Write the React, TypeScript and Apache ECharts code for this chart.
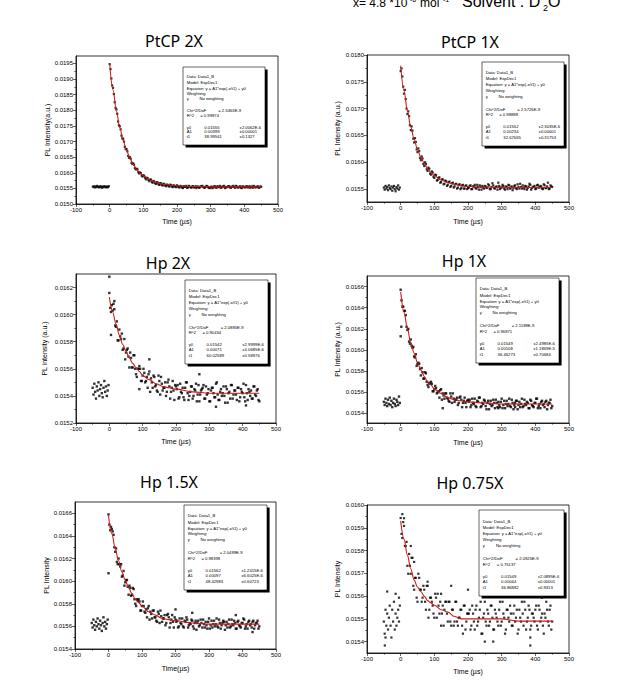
import React, { useEffect, useRef } from "react";
import * as echarts from "echarts";

const FONT = "'Liberation Sans', Arial, sans-serif";
const TFONT = "'Noto Sans', 'Liberation Sans', sans-serif";

const PRE_START = -50;
const PRE_STEP = 2.5;
const A_START = 0;
const B_START = 2.5;
const STEP = 5;

// fitted curve sample times (µs)
const FIT_X = [0, 10, 20, 30, 40, 50, 60, 70, 80, 90, 100, 120, 140, 160, 180, 200, 250, 300, 350, 400, 450];
const X_TICKS = [-100, 0, 100, 200, 300, 400, 500];

// ---------------- PtCP 2X ----------------
const P1_PRE_Y = [
  0.01556, 0.01554, 0.01557, 0.01553, 0.01555, 0.01558, 0.01554, 0.01556, 0.01553, 0.01557,
  0.01555, 0.01552, 0.01556, 0.01554, 0.01557, 0.01555, 0.01553, 0.01556, 0.01554, 0.01557,
];
const P1_A_Y = [
  0.01948, 0.01902, 0.01872, 0.01826, 0.01803, 0.01764, 0.01749, 0.01719, 0.01709, 0.01683,
  0.01676, 0.01654, 0.0165, 0.01632, 0.0163, 0.01615, 0.01613, 0.01602, 0.01601, 0.01591,
  0.01592, 0.01584, 0.01584, 0.01577, 0.01578, 0.01571, 0.01574, 0.01567, 0.0157, 0.01563,
  0.01567, 0.01561, 0.01565, 0.01559, 0.01562, 0.01557, 0.01562, 0.01556, 0.0156, 0.01555,
  0.0156, 0.01554, 0.01558, 0.01553, 0.01557, 0.01555, 0.01552, 0.01558, 0.01554, 0.01556,
  0.01553, 0.01557, 0.01555, 0.01552, 0.01556, 0.01558, 0.01553, 0.01555, 0.01557, 0.01552,
  0.01554, 0.01551, 0.01556, 0.01553, 0.01557, 0.01554, 0.01552, 0.01556, 0.01558, 0.01553,
  0.01555, 0.01557, 0.01552, 0.01556, 0.01554, 0.01558, 0.01553, 0.01555, 0.01552, 0.01557,
  0.01554, 0.01556, 0.01553, 0.01557, 0.01555, 0.01552, 0.01556, 0.01554, 0.01557, 0.01553,
  0.01555,
];
const P1_B_Y = [
  0.01932, 0.0188, 0.01852, 0.01808, 0.01789, 0.01752, 0.01739, 0.0171, 0.017, 0.01676,
  0.01669, 0.01648, 0.01645, 0.01628, 0.01626, 0.01611, 0.01611, 0.01598, 0.01599, 0.01588,
  0.0159, 0.01579, 0.01583, 0.01573, 0.01578, 0.01568, 0.01572, 0.01564, 0.01569, 0.01561,
  0.01566, 0.01559, 0.01563, 0.01557, 0.01561, 0.01556, 0.0156, 0.01554, 0.01558, 0.01554,
  0.01557, 0.01553, 0.01556, 0.01551, 0.01555, 0.01558, 0.01553, 0.01556, 0.01552, 0.01557,
  0.01554, 0.01551, 0.01556, 0.01553, 0.01557, 0.01555, 0.01552, 0.01558, 0.01554, 0.01551,
  0.01556, 0.01553, 0.01557, 0.01552, 0.01555, 0.01558, 0.01553, 0.01556, 0.01551, 0.01554,
  0.01557, 0.01553, 0.01555, 0.01558, 0.01552, 0.01556, 0.01553, 0.01557, 0.01551, 0.01555,
  0.01553, 0.01557, 0.01554, 0.01552, 0.01556, 0.01558, 0.01553, 0.01555, 0.01552, 0.01556,
];
const P1_EXTRA: number[][] = [];
const P1_FIT_Y = [
  0.01951, 0.01865, 0.01798, 0.01745, 0.01704, 0.01672, 0.01647, 0.01627, 0.01611, 0.01599,
  0.0159, 0.01576, 0.01568, 0.01563, 0.0156, 0.01558, 0.01556, 0.01555, 0.01555, 0.01555, 0.01555,
];
const P1_Y_TICKS = [0.015, 0.0155, 0.016, 0.0165, 0.017, 0.0175, 0.018, 0.0185, 0.019, 0.0195];
const P1_Y_MINOR = [0.01525, 0.01575, 0.01625, 0.01675, 0.01725, 0.01775, 0.01825, 0.01875, 0.01925];

// ---------------- PtCP 1X ----------------
const P2_PRE_Y = [
  0.01553, 0.01549, 0.01556, 0.01551, 0.01554, 0.01548, 0.01557, 0.01552, 0.0155, 0.01555,
  0.01547, 0.01553, 0.01556, 0.0155, 0.01546, 0.01554, 0.01551, 0.01557, 0.01549, 0.01553,
];
const P2_A_Y = [
  0.0177, 0.0176, 0.01728, 0.01718, 0.0169, 0.01686, 0.0166, 0.01659, 0.01637, 0.01638,
  0.01619, 0.01621, 0.01604, 0.01607, 0.01593, 0.01597, 0.01584, 0.01588, 0.01577, 0.01581,
  0.01571, 0.01576, 0.01567, 0.01572, 0.01563, 0.01568, 0.0156, 0.01565, 0.01558, 0.01564,
  0.01556, 0.01562, 0.01555, 0.0156, 0.01553, 0.01559, 0.01552, 0.01558, 0.01551, 0.01557,
  0.01552,
  0.01556, 0.0155, 0.01555, 0.01558, 0.01551, 0.01554, 0.01557, 0.01549, 0.01553, 0.01556,
  0.01552, 0.01559, 0.0155, 0.01554, 0.01557, 0.01551, 0.01555, 0.01562, 0.0155, 0.01553,
  0.01556, 0.01549, 0.01554, 0.01558, 0.01551, 0.01555, 0.01552, 0.01557, 0.0155, 0.01554,
  0.0156, 0.01551, 0.01553, 0.01556, 0.01549, 0.01555, 0.01558, 0.01552, 0.01554, 0.0155,
  0.01557, 0.01553, 0.01556, 0.01551, 0.01559, 0.01552, 0.01555, 0.0155, 0.01557, 0.01554,
];
const P2_B_Y = [
  0.01775, 0.01741, 0.01735, 0.017, 0.01695, 0.01669, 0.01667, 0.01644, 0.01645, 0.01624,
  0.01626, 0.01608, 0.01611, 0.01597, 0.016, 0.01587, 0.0159, 0.01579, 0.01583, 0.01573,
  0.01577, 0.01566, 0.01571, 0.01562, 0.01568, 0.01559, 0.01566, 0.01556, 0.01563, 0.01554,
  0.01561, 0.01553, 0.01559, 0.01551, 0.01558, 0.0155, 0.01557, 0.01551, 0.01556, 0.0155,
  0.01553, 0.01557, 0.0155, 0.01555, 0.01552, 0.01558, 0.01549, 0.01554, 0.01556, 0.01551,
  0.01555, 0.01553, 0.01557, 0.0155, 0.01561, 0.01552, 0.01554, 0.01549, 0.01556, 0.01553,
  0.01558, 0.01551, 0.01555, 0.0155, 0.01557, 0.01553, 0.01548, 0.01556, 0.01552, 0.01559,
  0.01551, 0.01554, 0.01557, 0.0155, 0.01555, 0.01552, 0.0156, 0.01549, 0.01554, 0.01556,
  0.01551, 0.01558, 0.01553, 0.01555, 0.0155, 0.01557, 0.01552, 0.01562, 0.01551, 0.01555,
];
const P2_EXTRA: number[][] = [];
const P2_FIT_Y = [
  0.0178, 0.01733, 0.01696, 0.01666, 0.01643, 0.01624, 0.01609, 0.01598, 0.01588, 0.01581,
  0.01575, 0.01567, 0.01562, 0.01559, 0.01556, 0.01555, 0.01554, 0.01553, 0.01553, 0.01553, 0.01553,
];
const P2_Y_TICKS = [0.0155, 0.016, 0.0165, 0.017, 0.0175, 0.018];
const P2_Y_MINOR = [0.01575, 0.01625, 0.01675, 0.01725, 0.01775];

// ---------------- Hp 2X ----------------
const P3_PRE_Y = [
  0.01546, 0.01541, 0.01549, 0.01543, 0.01538, 0.01547, 0.01544, 0.0155, 0.0154, 0.01545,
  0.01548, 0.01542, 0.01539, 0.01546, 0.01551, 0.01543, 0.01547, 0.0154, 0.01544, 0.01548,
];
const P3_A_Y = [
  0.01616, 0.01602, 0.01603, 0.01604, 0.01591, 0.01581, 0.01589, 0.01582, 0.01574, 0.01582,
  0.01572, 0.01575, 0.01561, 0.01568, 0.01561, 0.0157, 0.01556, 0.0156, 0.01562, 0.01551,
  0.01555, 0.01557, 0.01551, 0.01546, 0.01558, 0.01553, 0.01546, 0.01554, 0.01548, 0.01543,
  0.01551, 0.01554, 0.01544, 0.01546, 0.0154, 0.0155, 0.01547, 0.01543, 0.01551, 0.01537,
  0.01547,
  0.01548, 0.01539, 0.01543, 0.01546, 0.01537, 0.0155, 0.01542, 0.0154, 0.01547, 0.01538,
  0.01545, 0.01549, 0.01541, 0.01536, 0.01544, 0.01546, 0.01538, 0.01547, 0.01542, 0.01536,
  0.01544, 0.01546, 0.01539, 0.01549, 0.01541, 0.01537, 0.01545, 0.01542, 0.0154, 0.01547,
  0.01535, 0.01543, 0.01548, 0.01538, 0.01544, 0.01541, 0.01546, 0.01536, 0.01545, 0.01542,
  0.01539, 0.01548, 0.01537, 0.01543, 0.01544, 0.01538, 0.01547, 0.0154, 0.01545, 0.01536,
];
const P3_B_Y = [
  0.01605, 0.01607, 0.01608, 0.01592, 0.01595, 0.01581, 0.01584, 0.01586, 0.01575, 0.01567,
  0.01574, 0.01569, 0.01572, 0.01561, 0.0157, 0.0156, 0.01554, 0.0156, 0.0156, 0.01551,
  0.0156, 0.0155, 0.01554, 0.01556, 0.01543, 0.0155, 0.01555, 0.01547, 0.01544, 0.01555,
  0.01541, 0.01549, 0.01546, 0.0155, 0.01543, 0.01552, 0.01538, 0.01546, 0.01544, 0.01548,
  0.01545, 0.01538, 0.01549, 0.01542, 0.01539, 0.01546, 0.0155, 0.01537, 0.01543, 0.01547,
  0.0154, 0.01544, 0.01536, 0.01548, 0.01541, 0.01545, 0.01548, 0.01538, 0.01541, 0.01545,
  0.01536, 0.01546, 0.01542, 0.01539, 0.0155, 0.01537, 0.01543, 0.0154, 0.01547, 0.01535,
  0.01545, 0.01542, 0.01538, 0.01548, 0.01541, 0.01544, 0.01537, 0.01546, 0.01539, 0.01543,
  0.01549, 0.01536, 0.01542, 0.01545, 0.0154, 0.01538, 0.01547, 0.01541, 0.01544, 0.01537,
];
const P3_EXTRA = [
  [5, 0.01585], [0, 0.01628], [15, 0.0161], [90, 0.01545], [120, 0.01567],
  [270, 0.01556], [320, 0.01532], [410, 0.01533],
];
const P3_FIT_Y = [
  0.01613, 0.01602, 0.01593, 0.01585, 0.01578, 0.01573, 0.01568, 0.01564, 0.01561, 0.01558,
  0.01555, 0.01552, 0.01549, 0.01547, 0.01546, 0.01545, 0.01543, 0.01542, 0.01542, 0.01542, 0.01542,
];
const P3_Y_TICKS = [0.0152, 0.0154, 0.0156, 0.0158, 0.016, 0.0162];
const P3_Y_MINOR = [0.0153, 0.0155, 0.0157, 0.0159, 0.0161];

// ---------------- Hp 1X ----------------
const P4_PRE_Y = [
  0.01551, 0.01548, 0.01554, 0.0155, 0.01547, 0.01553, 0.01549, 0.01555, 0.01548, 0.01552,
  0.01546, 0.0155, 0.01554, 0.01549, 0.01547, 0.01553, 0.01551, 0.01548, 0.01556, 0.0155,
];
const P4_A_Y = [
  0.01657, 0.01641, 0.01637, 0.01633, 0.01619, 0.01608, 0.0161, 0.01602, 0.01594, 0.01596,
  0.01587, 0.01587, 0.01576, 0.01579, 0.01573, 0.01578, 0.01567, 0.01569, 0.0157, 0.01561,
  0.01563, 0.01564, 0.0156, 0.01555, 0.01563, 0.01559, 0.01554, 0.01559, 0.01554, 0.01551,
  0.01556, 0.01559, 0.01551, 0.01553, 0.01548, 0.01555, 0.01553, 0.0155, 0.01555, 0.01546,
  0.01553,
  0.01553, 0.01548, 0.0155, 0.01554, 0.01546, 0.01551, 0.01555, 0.01547, 0.01549, 0.01552,
  0.01544, 0.01552, 0.01549, 0.01547, 0.01553, 0.01545, 0.0155, 0.01551, 0.01546, 0.01554,
  0.01548, 0.01545, 0.01552, 0.01549, 0.01547, 0.01553, 0.01544, 0.0155, 0.01552, 0.01548,
  0.01546, 0.01554, 0.01547, 0.01549, 0.01551, 0.01545, 0.01553, 0.01548, 0.01546, 0.0155,
  0.01554, 0.01547, 0.01545, 0.01552, 0.01549, 0.01551, 0.01544, 0.0155, 0.01553, 0.01547,
];
const P4_B_Y = [
  0.01647, 0.01641, 0.01637, 0.01622, 0.0162, 0.01606, 0.01604, 0.01603, 0.01593, 0.01585,
  0.01588, 0.01582, 0.01583, 0.01573, 0.01579, 0.0157, 0.01565, 0.01568, 0.01568, 0.01561,
  0.01566, 0.01559, 0.01561, 0.01562, 0.01553, 0.01557, 0.01559, 0.01555, 0.01552, 0.01559,
  0.0155, 0.01554, 0.01553, 0.01555, 0.0155, 0.01556, 0.01546, 0.01552, 0.0155, 0.01552,
  0.01551, 0.01546, 0.01554, 0.01549, 0.01547, 0.01552, 0.01555, 0.01546, 0.0155, 0.01553,
  0.01547, 0.0155, 0.01544, 0.01552, 0.01548, 0.0155, 0.01553, 0.01546, 0.01548, 0.01551,
  0.01545, 0.01552, 0.01549, 0.01547, 0.01554, 0.01546, 0.0155, 0.01548, 0.01552, 0.01544,
  0.01551, 0.01549, 0.01546, 0.01553, 0.01548, 0.0155, 0.01545, 0.01552, 0.01547, 0.0155,
  0.01554, 0.01545, 0.01549, 0.01551, 0.01548, 0.01546, 0.01552, 0.01548, 0.0155, 0.01545,
];
const P4_EXTRA = [
  [0, 0.01613], [2, 0.01622], [125, 0.01545], [290, 0.01545], [340, 0.01546],
];
const P4_FIT_Y = [
  0.01655, 0.01636, 0.0162, 0.01607, 0.01597, 0.01588, 0.01581, 0.01575, 0.0157, 0.01567,
  0.01563, 0.01559, 0.01555, 0.01553, 0.01552, 0.01551, 0.0155, 0.01549, 0.01549, 0.01549, 0.01549,
];
const P4_Y_TICKS = [0.0154, 0.0156, 0.0158, 0.016, 0.0162, 0.0164, 0.0166];
const P4_Y_MINOR = [0.0155, 0.0157, 0.0159, 0.0161, 0.0163, 0.0165];

// ---------------- Hp 1.5X ----------------
const P5_PRE_Y = [
  0.01563, 0.01559, 0.01566, 0.01561, 0.01557, 0.01564, 0.0156, 0.01567, 0.01562, 0.01558,
  0.01565, 0.01561, 0.01556, 0.01563, 0.01568, 0.0156, 0.01564, 0.01558, 0.01562, 0.01566,
];
const P5_A_Y = [
  0.01659, 0.01645, 0.01646, 0.01641, 0.01626, 0.01617, 0.0162, 0.01613, 0.01604, 0.01609,
  0.01599, 0.01601, 0.01588, 0.01594, 0.01588, 0.01593, 0.0158, 0.01584, 0.01584, 0.01574,
  0.01578, 0.01578, 0.01572, 0.01568, 0.01578, 0.01573, 0.01567, 0.01574, 0.01568, 0.01564,
  0.01571, 0.01574, 0.01564, 0.01567, 0.01561, 0.0157, 0.01568, 0.01563, 0.0157, 0.01559,
  0.01566,
  0.01565, 0.0156, 0.01563, 0.01567, 0.01559, 0.01564, 0.01566, 0.01561, 0.01562, 0.01565,
  0.01558, 0.01565, 0.01563, 0.0156, 0.01566, 0.01559, 0.01562, 0.01564, 0.01558, 0.01567,
  0.01561, 0.01559, 0.01565, 0.01562, 0.0156, 0.01566, 0.01558, 0.01563, 0.01564, 0.01561,
  0.01559, 0.01566, 0.0156, 0.01562, 0.01565, 0.01558, 0.01564, 0.01561, 0.01559, 0.01563,
  0.01566, 0.0156, 0.01558, 0.01565, 0.01562, 0.01564, 0.01558, 0.01563, 0.01565, 0.0156,
];
const P5_B_Y = [
  0.0165, 0.01648, 0.01644, 0.0163, 0.01629, 0.01615, 0.01615, 0.01615, 0.01605, 0.01596,
  0.01601, 0.01595, 0.01596, 0.01587, 0.01594, 0.01584, 0.01578, 0.01583, 0.01582, 0.01574,
  0.01582, 0.01573, 0.01575, 0.01576, 0.01566, 0.01571, 0.01574, 0.01568, 0.01565, 0.01573,
  0.01563, 0.01569, 0.01567, 0.0157, 0.01563, 0.01571, 0.01559, 0.01566, 0.01564, 0.01568,
  0.01564, 0.01559, 0.01567, 0.01562, 0.0156, 0.01565, 0.01568, 0.01559, 0.01563, 0.01566,
  0.0156, 0.01563, 0.01557, 0.01565, 0.01561, 0.01563, 0.01566, 0.01559, 0.01561, 0.01564,
  0.01558, 0.01565, 0.01562, 0.0156, 0.01567, 0.01559, 0.01563, 0.01561, 0.01565, 0.01557,
  0.01564, 0.01562, 0.01559, 0.01566, 0.01561, 0.01563, 0.01558, 0.01565, 0.0156, 0.01563,
  0.01567, 0.01558, 0.01562, 0.01564, 0.01561, 0.01559, 0.01565, 0.01561, 0.01563, 0.01558,
];
const P5_EXTRA = [
  [0, 0.01607], [200, 0.01575], [250, 0.01572], [380, 0.0157], [430, 0.01555],
];
const P5_FIT_Y = [
  0.01658, 0.01642, 0.01629, 0.01618, 0.01608, 0.01601, 0.01594, 0.01589, 0.01584, 0.01581,
  0.01578, 0.01573, 0.0157, 0.01567, 0.01566, 0.01565, 0.01563, 0.01562, 0.01562, 0.01562, 0.01562,
];
const P5_Y_TICKS = [0.0154, 0.0156, 0.0158, 0.016, 0.0162, 0.0164, 0.0166];
const P5_Y_MINOR = [0.0155, 0.0157, 0.0159, 0.0161, 0.0163, 0.0165];

// ---------------- Hp 0.75X ----------------
const P6_PRE_Y = [
  0.015488, 0.015435, 0.01554, 0.01547, 0.015523, 0.015453, 0.015505, 0.015558, 0.01547, 0.015418,
  0.01554, 0.015488, 0.015575, 0.015453, 0.015523, 0.01547, 0.015505, 0.01554, 0.015488, 0.015558,
];
const P6_A_Y = [
  0.015943, 0.015855, 0.015908, 0.01582, 0.015733, 0.015785, 0.015698, 0.015768, 0.015628, 0.01568,
  0.015575, 0.01568, 0.015628, 0.015593, 0.015628, 0.01554, 0.015645, 0.01554, 0.015593, 0.015558,
  0.015505, 0.015593, 0.01561, 0.015523, 0.01547, 0.015558, 0.01554, 0.015575, 0.015488, 0.015575,
  0.01547, 0.01554, 0.015488, 0.015575, 0.01547, 0.015505, 0.01554, 0.015435, 0.015558, 0.015488,
  0.015523,
  0.01554, 0.01547, 0.015523, 0.015453, 0.015558, 0.015488, 0.01554, 0.015435, 0.015505, 0.015575,
  0.01547, 0.015523, 0.015488, 0.015558, 0.015453, 0.01554, 0.015505, 0.01547, 0.015575, 0.015488,
  0.015523, 0.015435, 0.01554, 0.015505, 0.015558, 0.01547, 0.015523, 0.015488, 0.01554, 0.015453,
  0.015505, 0.015575, 0.01547, 0.01554, 0.015488, 0.015558, 0.015453, 0.015523, 0.015505, 0.01554,
  0.01547, 0.015558, 0.015488, 0.015523, 0.015435, 0.015505, 0.01554, 0.01547, 0.015558, 0.015488,
];
const P6_B_Y = [
  0.015873, 0.015925, 0.01582, 0.015838, 0.015698, 0.015733, 0.015768, 0.015645, 0.01568, 0.015593,
  0.015698, 0.015628, 0.015575, 0.015645, 0.015575, 0.015645, 0.015505, 0.015593, 0.015575, 0.015523,
  0.01561, 0.015505, 0.015558, 0.015575, 0.015523, 0.01547, 0.015575, 0.015523, 0.015575, 0.015488,
  0.01554, 0.01547, 0.015575, 0.015488, 0.015505, 0.01554, 0.01547, 0.015558, 0.015453, 0.015523,
  0.015523, 0.015453, 0.015558, 0.015488, 0.01554, 0.01547, 0.015505, 0.015575, 0.015435, 0.015523,
  0.015488, 0.01554, 0.01547, 0.015558, 0.015505, 0.015453, 0.015523, 0.015488, 0.01554, 0.01547,
  0.015575, 0.015505, 0.015453, 0.01554, 0.015488, 0.015523, 0.01547, 0.015558, 0.015505, 0.015435,
  0.01554, 0.015488, 0.015523, 0.015575, 0.015453, 0.015505, 0.01554, 0.01547, 0.015523, 0.015488,
  0.015558, 0.015453, 0.01554, 0.015505, 0.01547, 0.015523, 0.015575, 0.015488, 0.01554, 0.015453,
];
const P6_EXTRA = [
  [5, 0.01596], [10, 0.015942], [30, 0.01582], [40, 0.01575], [-40, 0.01562], [-15, 0.01561],
  [-5, 0.015593], [80, 0.015663], [120, 0.01561], [250, 0.0154], [275, 0.0154], [385, 0.015383],
  [385, 0.015418], [-47, 0.015383], [-45, 0.015418], [150, 0.015645], [200, 0.015628],
  [320, 0.01561], [420, 0.015593],
];
const P6_FIT_Y = [
  0.01593, 0.01585, 0.01578, 0.01572, 0.01567, 0.01564, 0.01562, 0.0156, 0.01558, 0.01557,
  0.01556, 0.01554, 0.01553, 0.01551, 0.0155, 0.0155, 0.0155, 0.0155, 0.01549, 0.01549, 0.01549,
];
const P6_Y_TICKS = [0.0154, 0.0155, 0.0156, 0.0157, 0.0158, 0.0159, 0.016];
const P6_Y_MINOR = [0.01545, 0.01555, 0.01565, 0.01575, 0.01585, 0.01595];

// fit parameter tables
const P1_BOX = { chi: "2.3463E-9", r2: "0.99874", y0: ["0.01555", "2.0062E-6"], a1: ["0.00399", "0.00001"], t1: ["38.99561", "0.1327"] };
const P2_BOX = { chi: "2.5726E-9", r2: "0.98888", y0: ["0.01552", "2.3035E-6"], a1: ["0.00234", "0.00001"], t1: ["32.67665", "0.31753"] };
const P3_BOX = { chi: "2.0885E-9", r2: "0.90434", y0: ["0.01542", "2.9999E-6"], a1: ["0.00071", "4.0685E-6"], t1: ["60.02589", "0.58976"] };
const P4_BOX = { chi: "2.1188E-9", r2: "0.96871", y0: ["0.01549", "2.4985E-6"], a1: ["0.00108", "1.1869E-5"], t1: ["36.46273", "0.70684"] };
const P5_BOX = { chi: "2.0499E-9", r2: "0.98398", y0: ["0.01562", "1.2415E-6"], a1: ["0.00097", "6.6025E-6"], t1: ["48.42983", "0.60723"] };
const P6_BOX = { chi: "2.0925E-9", r2: "0.75137", y0: ["0.01549", "2.0895E-6"], a1: ["0.00044", "0.00001"], t1: ["36.86882", "0.9313"] };

const PANELS = [
  { title: "PtCP 2X", tp: [174, 41], grid: [76, 56, 202, 148], yMin: 0.015, yMax: 0.01974, ticks: P1_Y_TICKS, minor: P1_Y_MINOR, yName: "PL Intensity(a.u.)", yGap: 25, xName: "Time (µs)", xGap: 14, pre: P1_PRE_Y, a: P1_A_Y, b: P1_B_Y, extra: P1_EXTRA, fit: P1_FIT_Y, box: [183, 67, 82, 78], bt: P1_BOX, sym: 2.2 },
  { title: "PtCP 1X", tp: [470, 42], grid: [367, 55, 202, 147], yMin: 0.01526, yMax: 0.018, ticks: P2_Y_TICKS, minor: P2_Y_MINOR, yName: "PL Intensity (a.u.)", yGap: 26.5, xName: "Time (µs)", xGap: 15.5, pre: P2_PRE_Y, a: P2_A_Y, b: P2_B_Y, extra: P2_EXTRA, fit: P2_FIT_Y, box: [482, 62, 82, 84], bt: P2_BOX, sym: 2.2 },
  { title: "Hp 2X", tp: [168, 263], grid: [76, 274, 200, 149], yMin: 0.0152, yMax: 0.0163, ticks: P3_Y_TICKS, minor: P3_Y_MINOR, yName: "PL intensity (a.u.)", yGap: 28, xName: "Time (µs)", xGap: 15, pre: P3_PRE_Y, a: P3_A_Y, b: P3_B_Y, extra: P3_EXTRA, fit: P3_FIT_Y, box: [185, 280, 83, 84], bt: P3_BOX, sym: 2.4 },
  { title: "Hp 1X", tp: [464, 261], grid: [367, 276, 202, 147], yMin: 0.01531, yMax: 0.0167, ticks: P4_Y_TICKS, minor: P4_Y_MINOR, yName: "PL Intensity (a.u.)", yGap: 26.5, xName: "Time (µs)", xGap: 15.5, pre: P4_PRE_Y, a: P4_A_Y, b: P4_B_Y, extra: P4_EXTRA, fit: P4_FIT_Y, box: [476, 278, 83, 85], bt: P4_BOX, sym: 2.4 },
  { title: "Hp 1.5X", tp: [169, 482], grid: [75, 502, 201, 147], yMin: 0.0154, yMax: 0.0167, ticks: P5_Y_TICKS, minor: P5_Y_MINOR, yName: "PL Intensity", yGap: 25, xName: "Time(µs)", xGap: 15.5, pre: P5_PRE_Y, a: P5_A_Y, b: P5_B_Y, extra: P5_EXTRA, fit: P5_FIT_Y, box: [184, 505, 83, 85], bt: P5_BOX, sym: 2.4 },
  { title: "Hp 0.75X", tp: [470, 483], grid: [367, 505, 202, 148], yMin: 0.01535, yMax: 0.016, ticks: P6_Y_TICKS, minor: P6_Y_MINOR, yName: "PL Intensity", yGap: 26.5, xName: "Time (µs)", xGap: 15, pre: P6_PRE_Y, a: P6_A_Y, b: P6_B_Y, extra: P6_EXTRA, fit: P6_FIT_Y, box: [479, 510, 85, 86], bt: P6_BOX, sym: 2.2 },
];

function pts(start: number, step: number, ys: number[]) {
  return ys.map((y, i) => [start + i * step, y]);
}

function txt(x: number, y: number, s: string, fs: number, family = FONT, align = "left", va = "middle") {
  return {
    type: "text",
    x,
    y,
    z: 100,
    silent: true,
    style: { text: s, fontSize: fs, fontFamily: family, fill: "#000", align, verticalAlign: va, textAlign: align, textVerticalAlign: va },
  };
}

function boxElements(b: number[], t: any) {
  const [L, T, W, H] = b;
  const fs = 4.2;
  const r = [0.128, 0.2, 0.273, 0.341, 0.41, 0.564, 0.628, 0.77, 0.833, 0.897].map((f) => T + f * H);
  const c = (f: number) => L + f * W;
  return [
    { type: "rect", z: 99, silent: true, shape: { x: L + 2.6, y: T + 2.6, width: W, height: H }, style: { fill: "#000" } },
    { type: "rect", z: 99, silent: true, shape: { x: L, y: T, width: W, height: H }, style: { fill: "#fff", stroke: "#000", lineWidth: 0.6 } },
    txt(c(0.045), r[0], "Data: Data1_B", fs),
    txt(c(0.045), r[1], "Model: ExpDec1", fs),
    txt(c(0.045), r[2], "Equation: y = A1*exp(-x/t1) + y0", fs),
    txt(c(0.045), r[3], "Weighting:", fs),
    txt(c(0.045), r[4], "y", fs),
    txt(c(0.2), r[4], "No weighting", fs),
    txt(c(0.045), r[5], "Chi^2/DoF", fs),
    txt(c(0.43), r[5], "= " + t.chi, fs),
    txt(c(0.045), r[6], "R^2", fs),
    txt(c(0.21), r[6], "= " + t.r2, fs),
    txt(c(0.045), r[7], "y0", fs),
    txt(c(0.26), r[7], t.y0[0], fs),
    txt(c(0.69), r[7], "±" + t.y0[1], fs),
    txt(c(0.045), r[8], "A1", fs),
    txt(c(0.26), r[8], t.a1[0], fs),
    txt(c(0.69), r[8], "±" + t.a1[1], fs),
    txt(c(0.045), r[9], "t1", fs),
    txt(c(0.26), r[9], t.t1[0], fs),
    txt(c(0.69), r[9], "±" + t.t1[1], fs),
  ];
}

function buildOption() {
  const axisLine = { show: true, onZero: false, lineStyle: { color: "#000", width: 0.8 } };
  const label = { fontSize: 6, margin: 3, color: "#000", fontFamily: FONT };
  const nameStyle = { fontSize: 7, color: "#000", fontFamily: FONT };
  const grid: any[] = [];
  const xAxis: any[] = [];
  const yAxis: any[] = [];
  const series: any[] = [];
  const graphic: any[] = [];

  PANELS.forEach((p, i) => {
    grid.push({ left: p.grid[0], top: p.grid[1], width: p.grid[2], height: p.grid[3], show: true, borderColor: "#000", borderWidth: 0.8, backgroundColor: "transparent", containLabel: false });
    xAxis.push({
      type: "value", gridIndex: i, min: -100, max: 500, interval: 100, position: "bottom",
      name: p.xName, nameLocation: "middle", nameGap: p.xGap, nameTextStyle: nameStyle,
      axisLine, axisTick: { show: true, length: 3, lineStyle: { color: "#000", width: 0.6 } },
      minorTick: { show: true, splitNumber: 2, length: 1.6, lineStyle: { color: "#000", width: 0.6 } },
      axisLabel: { ...label, customValues: X_TICKS },
      splitLine: { show: false }, minorSplitLine: { show: false },
    });
    yAxis.push({
      type: "value", gridIndex: i, min: p.yMin, max: p.yMax, position: "left",
      name: p.yName, nameLocation: "middle", nameGap: p.yGap, nameRotate: 90, nameTextStyle: nameStyle,
      axisLine, axisTick: { show: true, length: 3, customValues: p.ticks, lineStyle: { color: "#000", width: 0.6 } },
      axisLabel: { ...label, customValues: p.ticks, formatter: (v: number) => v.toFixed(4) },
      splitLine: { show: false },
    });
    series.push({
      type: "scatter", xAxisIndex: i, yAxisIndex: i, symbol: "rect", symbolSize: p.sym,
      itemStyle: { color: "#000" }, z: 2,
      data: [...pts(PRE_START, PRE_STEP, p.pre), ...pts(A_START, STEP, p.a), ...pts(B_START, STEP, p.b), ...p.extra],
    });
    series.push({
      type: "line", xAxisIndex: i, yAxisIndex: i, showSymbol: false, smooth: 0.35, smoothMonotone: "x",
      lineStyle: { color: "#cf1a1a", width: 1.1 }, z: 3,
      data: FIT_X.map((x, j) => [x, p.fit[j]]),
    });
    graphic.push(txt(p.tp[0], p.tp[1], p.title, 16, TFONT, "center", "middle"));
    graphic.push(...boxElements(p.box, p.bt));
  });

  // minor y ticks
  PANELS.forEach((p, i) => {
    yAxis.push({
      type: "value", gridIndex: i, min: p.yMin, max: p.yMax, position: "left", offset: 0,
      axisLine: { show: false, onZero: false }, axisLabel: { show: false }, splitLine: { show: false },
      axisTick: { show: true, length: 1.6, customValues: p.minor, lineStyle: { color: "#000", width: 0.6 } },
    });
  });

  // header (partially cut at the top edge, as in the source)
  graphic.push(txt(353, 8.5, "x= 4.8 *10", 12, FONT, "left", "bottom"));
  graphic.push(txt(410, 3, "-6", 7, FONT, "left", "bottom"));
  graphic.push(txt(420, 8.5, "mol", 12, FONT, "left", "bottom"));
  graphic.push(txt(443, 3, "-1", 7, FONT, "left", "bottom"));
  graphic.push(txt(462, 9.5, "Solvent : D", 16, FONT, "left", "bottom"));
  graphic.push(txt(543, 12, "2", 9, FONT, "left", "bottom"));
  graphic.push(txt(548, 9.5, "O", 16, FONT, "left", "bottom"));

  return { animation: false, backgroundColor: "#fff", grid, xAxis, yAxis, series, graphic: { elements: graphic } };
}

export default function App() {
  const ref = useRef<HTMLDivElement>(null);
  useEffect(() => {
    if (!ref.current) return;
    const chart = echarts.init(ref.current, undefined, { renderer: "svg" });
    chart.setOption(buildOption() as any);
    return () => chart.dispose();
  }, []);
  return <div ref={ref} style={{ position: "absolute", left: 0, top: 0, width: 618, height: 700, background: "#fff" }} />;
}
